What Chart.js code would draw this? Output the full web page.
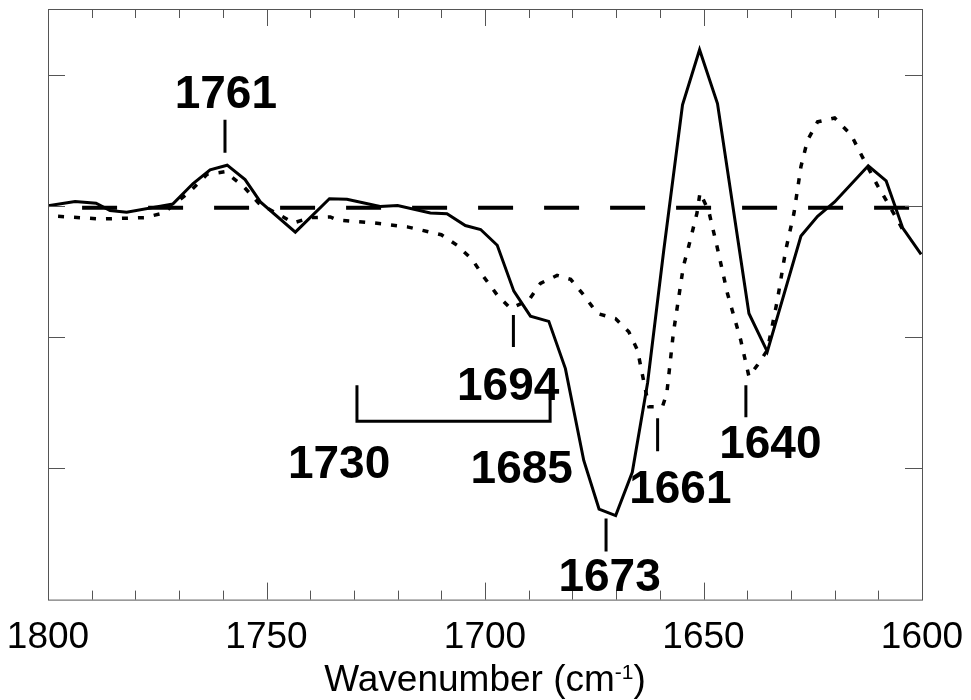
<!DOCTYPE html>
<html>
<head>
<meta charset="utf-8">
<script src="https://cdn.jsdelivr.net/npm/chart.js@4.4.1/dist/chart.umd.min.js"></script>
<style>
  html, body { margin: 0; padding: 0; background: #fff; }
</style>
</head>
<body>
<canvas id="spectrum" width="971" height="700"></canvas>
<script>
// solid trace (wavenumber, absorbance change in tick units)
const solidX = [1800, 1793.8, 1789, 1785.8, 1782, 1771.4, 1766.8, 1762.9, 1759, 1754.9, 1751.4, 1743.4,
  1735.6, 1731.6, 1724, 1720, 1712.5, 1708.7, 1704.5, 1701, 1697.2, 1693.4, 1689.6, 1685.4, 1681.6,
  1677.4, 1673.9, 1670.1, 1666.3, 1662.8, 1659.1, 1654.8, 1650.9, 1646.8, 1639.6, 1635.4, 1627.7,
  1623.9, 1620, 1612.3, 1608.2, 1604.4, 1600.2];
const solidY = [0.0, 0.033, 0.02, -0.036, -0.048, 0.015, 0.17, 0.275, 0.31, 0.2, 0.03, -0.2,
  0.055, 0.05, -0.005, 0.002, -0.055, -0.06, -0.15, -0.18, -0.3, -0.65, -0.84, -0.88, -1.24,
  -1.94, -2.31, -2.36, -2.03, -1.35, -0.34, 0.77, 1.19, 0.78, -0.82, -1.11, -0.23,
  -0.08, 0.03, 0.305, 0.19, -0.17, -0.37];

// dotted trace
const dottedX = [1797.7, 1788, 1778, 1773.6, 1767.5, 1763.6, 1759.5, 1755.3, 1751.8, 1743.8, 1740,
  1735.4, 1733.9, 1725.5, 1717.8, 1710, 1706.4, 1702.9, 1700.3, 1697.2, 1694.2, 1690, 1687.3,
  1683.5, 1680.4, 1677.4, 1674.3, 1670.1, 1667.1, 1665.1, 1663.6, 1662.5, 1659.4, 1658.4, 1656.9,
  1654.6, 1653.4, 1651.5, 1650.8, 1648.8, 1646.9, 1644.5, 1641.5, 1639.6, 1637.6, 1635.4, 1633.1,
  1631.2, 1629.3, 1627.7, 1626.2, 1623.9, 1620, 1616.2, 1613.9, 1610.1, 1607.8, 1605.4, 1603.5];
const dottedY = [-0.08, -0.1, -0.09, -0.055, 0.11, 0.24, 0.26, 0.15, 0.02, -0.13, -0.09,
  -0.085, -0.107, -0.13, -0.16, -0.22, -0.3, -0.41, -0.54, -0.68, -0.78, -0.72, -0.59,
  -0.53, -0.56, -0.68, -0.82, -0.86, -0.96, -1.1, -1.35, -1.53, -1.53, -1.43, -0.97,
  -0.46, -0.31, -0.056, 0.1, -0.04, -0.31, -0.67, -1.02, -1.30, -1.21, -1.1, -0.72,
  -0.34, -0.056, 0.3, 0.5, 0.64, 0.67, 0.54, 0.39, 0.15, 0.02, -0.12, -0.24];

// dashed reference line
const baseX = [1792.2, 1601.4];
const baseY = [-0.015, -0.015];

const xTickLabels = [1800, 1750, 1700, 1650, 1600];
const yTicks = [-2, -1, 0, 1];

// peak labels: text, marker x, marker y top/bottom, label x, label baseline y
const peakText = ['1761', '1694', '1673', '1661', '1640'];
const peakMarkX = [1759.5, 1693.5, 1672.3, 1660.5, 1640.3];
const peakMarkTop = [0.656, -0.832, -2.382, -1.618, -1.366];
const peakMarkBot = [0.405, -1.076, -2.634, -1.870, -1.611];
const peakLabelX = [1759.3, 1694.7, 1671.5, 1655.3, 1634.7];
const peakLabelY = [0.748, -1.481, -2.931, -2.267, -1.924];

// bracket 1730 .. 1685
const bracketText = ['1730', '1685'];
const bracketX = [1729.3, 1685.1];
const bracketTop = [-1.366, -1.405];
const bracketBottom = -1.641;
const bracketLabelX = [1733.4, 1691.6];
const bracketLabelY = [-2.076, -2.115];

const pts = (xs, ys) => xs.map((x, i) => ({ x: x, y: ys[i] }));

const frame = {
  id: 'frame',
  afterDraw(chart) {
    const { ctx, chartArea: a, scales: { x, y } } = chart;
    ctx.save();
    ctx.strokeStyle = '#555';
    ctx.lineWidth = 1;
    ctx.strokeRect(a.left + 0.5, a.top + 0.5, a.right - a.left, a.bottom - a.top);
    ctx.beginPath();
    for (let v = 1600; v <= 1800; v += 10) {
      const px = Math.round(x.getPixelForValue(v)) + 0.5;
      const len = v % 50 === 0 ? 17 : 9;
      ctx.moveTo(px, a.top); ctx.lineTo(px, a.top + len);
      ctx.moveTo(px, a.bottom); ctx.lineTo(px, a.bottom - len);
    }
    yTicks.forEach(v => {
      const py = Math.round(y.getPixelForValue(v)) + 0.5;
      ctx.moveTo(a.left, py); ctx.lineTo(a.left + 17, py);
      ctx.moveTo(a.right, py); ctx.lineTo(a.right - 17, py);
    });
    ctx.stroke();

    // peak markers and labels
    ctx.strokeStyle = '#000';
    ctx.fillStyle = '#000';
    ctx.lineWidth = 3;
    ctx.beginPath();
    peakText.forEach((t, i) => {
      const px = x.getPixelForValue(peakMarkX[i]);
      ctx.moveTo(px, y.getPixelForValue(peakMarkTop[i]));
      ctx.lineTo(px, y.getPixelForValue(peakMarkBot[i]));
    });
    const bx0 = x.getPixelForValue(bracketX[0]);
    const bx1 = x.getPixelForValue(bracketX[1]);
    const by = y.getPixelForValue(bracketBottom);
    ctx.moveTo(bx0, y.getPixelForValue(bracketTop[0]));
    ctx.lineTo(bx0, by);
    ctx.lineTo(bx1, by);
    ctx.lineTo(bx1, y.getPixelForValue(bracketTop[1]));
    ctx.stroke();

    ctx.font = 'bold 46px "Liberation Sans", Arial, sans-serif';
    ctx.textAlign = 'center';
    ctx.textBaseline = 'alphabetic';
    peakText.forEach((t, i) => {
      ctx.fillText(t, x.getPixelForValue(peakLabelX[i]), y.getPixelForValue(peakLabelY[i]));
    });
    bracketText.forEach((t, i) => {
      ctx.fillText(t, x.getPixelForValue(bracketLabelX[i]), y.getPixelForValue(bracketLabelY[i]));
    });

    // axis title with superscript
    const main = 'Wavenumber (cm';
    const sup = '-1';
    const tail = ')';
    ctx.font = '37px "Liberation Sans", Arial, sans-serif';
    const wMain = ctx.measureText(main).width;
    const wTail = ctx.measureText(tail).width;
    ctx.font = '21px "Liberation Sans", Arial, sans-serif';
    const wSup = ctx.measureText(sup).width;
    const total = wMain + wSup + wTail;
    let tx = (a.left + a.right) / 2 - total / 2;
    const base = 691;
    ctx.textAlign = 'left';
    ctx.font = '37px "Liberation Sans", Arial, sans-serif';
    ctx.fillText(main, tx, base);
    tx += wMain;
    ctx.font = '21px "Liberation Sans", Arial, sans-serif';
    ctx.fillText(sup, tx, base - 12);
    tx += wSup;
    ctx.font = '37px "Liberation Sans", Arial, sans-serif';
    ctx.fillText(tail, tx, base);
    ctx.restore();
  }
};

new Chart(document.getElementById('spectrum'), {
  type: 'scatter',
  data: {
    datasets: [
      {
        label: 'solid',
        data: pts(solidX, solidY),
        showLine: true,
        borderColor: '#000',
        borderWidth: 3,
        pointRadius: 0,
        tension: 0
      },
      {
        label: 'dotted',
        data: pts(dottedX, dottedY),
        showLine: true,
        borderColor: '#000',
        borderWidth: 3.5,
        borderDash: [6, 10],
        pointRadius: 0,
        tension: 0
      },
      {
        label: 'zero',
        data: pts(baseX, baseY),
        showLine: true,
        borderColor: '#000',
        borderWidth: 4,
        borderDash: [35, 31],
        pointRadius: 0
      }
    ]
  },
  options: {
    responsive: false,
    animation: false,
    events: [],
    layout: { padding: { left: 48, right: 49, top: 9, bottom: 24 } },
    plugins: { legend: { display: false }, tooltip: { enabled: false } },
    scales: {
      x: {
        type: 'linear',
        reverse: true,
        min: 1600,
        max: 1800,
        afterBuildTicks: axis => { axis.ticks = xTickLabels.map(v => ({ value: v })); },
        afterFit: axis => { axis.paddingLeft = 0; axis.paddingRight = 0; },
        ticks: {
          color: '#000',
          font: { family: '"Liberation Sans", Arial, sans-serif', size: 37 },
          padding: 16,
          maxRotation: 0,
          autoSkip: false,
          callback: v => String(v)
        },
        grid: { display: false, drawTicks: false },
        border: { display: false }
      },
      y: {
        display: false,
        min: -3,
        max: 1.5
      }
    }
  },
  plugins: [frame]
});
</script>
</body>
</html>
